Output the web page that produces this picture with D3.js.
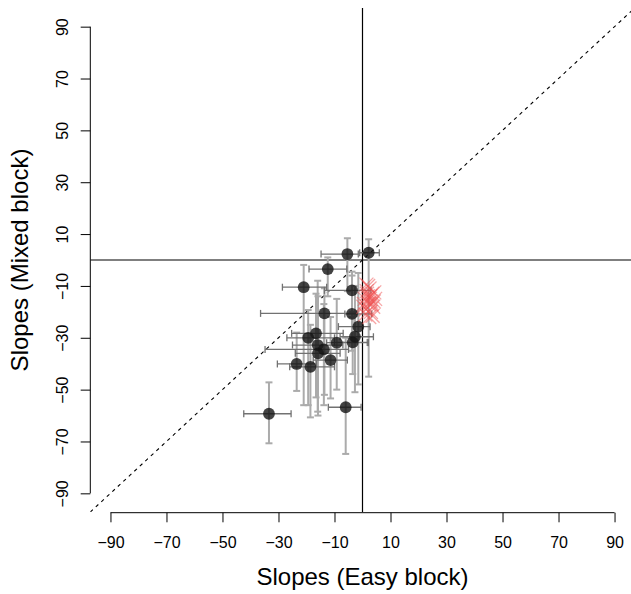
<!DOCTYPE html>
<html><head><meta charset="utf-8">
<script src="https://cdn.jsdelivr.net/npm/d3@7"></script>
<style>body{margin:0;background:#fff}svg{display:block}text{font-family:"Liberation Sans",Arial,Helvetica,sans-serif}</style>
</head><body>
<script>
// Participants: slopes in Easy block (x) and Mixed block (y), with error bars
const ptX   = [-5.4, 2.2, -12.4, -21.0, -3.75, -13.6, -3.75, -1.5, -2.7, -3.5, -16.6, -19.4, -16.0, -13.8, -15.9, -9.2, -11.4, -23.5, -18.6, -6.0, -33.4];
const ptY   = [2.3, 2.8, -3.5, -10.5, -11.7, -20.6, -20.8, -25.7, -29.6, -31.8, -28.3, -30.0, -32.8, -34.5, -36.0, -31.9, -38.6, -40.1, -41.2, -56.8, -59.3];
const xLo   = [-14.8, -1.0, -19.1, -28.6, -13.6, -36.4, -6.3, -8.6, -8.0, -10.0, -25.3, -27.0, -25.0, -34.8, -24.0, -12.8, -17.6, -30.4, -26.0, -12.2, -42.4];
const xHi   = [-1.5, 6.0, -5.6, -12.8, 3.0, -2.0, 3.3, 2.7, 3.9, 1.7, -6.9, -10.0, -7.0, -5.0, -8.0, 2.1, -5.4, -16.4, -10.0, -0.5, -25.5];
const yLo   = [-12.0, -45.0, -14.0, -56.0, -22.0, -52.0, -35.0, -48.0, -51.0, -44.0, -53.0, -56.0, -58.5, -56.0, -60.0, -50.0, -53.4, -50.5, -60.7, -74.8, -70.7];
const yHi   = [8.4, 8.0, 1.0, -1.9, -4.5, -10.9, -6.0, -5.0, -10.0, -20.0, -13.0, -19.3, -8.0, -17.0, -14.0, -15.0, -22.0, -28.0, -25.0, -30.0, -47.2];
// Red crosses (cluster near zero)
const redX  = [1.5, 2.8, 0.8, 3.5, 2.2, 1.2, 4.0, 2.5, 3.0, 0.5, 1.9, 3.8, 2.6, 1.0, 4.5, 2.0, 3.2, 1.6, 2.9, 0.3, 3.6, 1.4, 2.4, 4.2];
const redY  = [-12, -14, -15, -13, -17, -19, -16, -11, -20, -17, -14, -18, -15, -21, -15, -10, -17, -13, -16, -18, -21.5, -9.5, -22, -12.5];
const ticks = [-90, -70, -50, -30, -10, 10, 30, 50, 70, 90];
const xTitle = "Slopes (Easy block)";
const yTitle = "Slopes (Mixed block)";

const W = 631, H = 594;
const svg = d3.select("body").append("svg").attr("width", W).attr("height", H);
const x = d3.scaleLinear().domain([-97.2, 97.2]).range([90.3, 634.7]);
const y = d3.scaleLinear().domain([-97.2, 97.2]).range([512, 8]);

svg.append("defs").append("clipPath").attr("id","clip")
  .append("rect").attr("x",90.3).attr("y",8).attr("width",544.4).attr("height",504);

const plot = svg.append("g").attr("clip-path","url(#clip)");

// reference lines
plot.append("line").attr("x1",x(-97.2)).attr("x2",x(97.2)).attr("y1",y(-97.2)).attr("y2",y(97.2))
  .attr("stroke","#000").attr("stroke-width",1.1).attr("stroke-dasharray","3.5,4");
plot.append("line").attr("x1",x(-97.2)).attr("x2",x(97.2)).attr("y1",y(0)).attr("y2",y(0))
  .attr("stroke","#000").attr("stroke-width",1.2);
plot.append("line").attr("x1",x(0)).attr("x2",x(0)).attr("y1",y(-97.2)).attr("y2",y(97.2))
  .attr("stroke","#000").attr("stroke-width",1.2);

const idx = d3.range(ptX.length);
const vcol = "#ababab", hcol = "#727272";
// vertical error bars
const vb = plot.append("g").attr("stroke",vcol).attr("stroke-width",2);
idx.forEach(i=>{
  vb.append("line").attr("x1",x(ptX[i])).attr("x2",x(ptX[i])).attr("y1",y(yLo[i])).attr("y2",y(yHi[i]));
  [yLo[i],yHi[i]].forEach(v=>vb.append("line").attr("x1",x(ptX[i])-3.5).attr("x2",x(ptX[i])+3.5).attr("y1",y(v)).attr("y2",y(v)));
});
// horizontal error bars
const hb = plot.append("g").attr("stroke",hcol).attr("stroke-width",1.3);
idx.forEach(i=>{
  hb.append("line").attr("x1",x(xLo[i])).attr("x2",x(xHi[i])).attr("y1",y(ptY[i])).attr("y2",y(ptY[i]));
  [xLo[i],xHi[i]].forEach(v=>hb.append("line").attr("x1",x(v)).attr("x2",x(v)).attr("y1",y(ptY[i])-3.5).attr("y2",y(ptY[i])+3.5));
});
// points
plot.append("g").selectAll("circle").data(idx).join("circle")
  .attr("cx",i=>x(ptX[i])).attr("cy",i=>y(ptY[i])).attr("r",5.9)
  .attr("fill","rgba(20,20,20,0.8)");
// red crosses
const rg = plot.append("g").attr("stroke","rgba(240,80,80,0.5)").attr("stroke-width",1.3);
d3.range(redX.length).forEach(i=>{
  const cx = x(redX[i]), cy = y(redY[i]), s = 7;
  rg.append("line").attr("x1",cx-s).attr("x2",cx+s).attr("y1",cy-s).attr("y2",cy+s);
  rg.append("line").attr("x1",cx-s).attr("x2",cx+s).attr("y1",cy+s).attr("y2",cy-s);
});

// axes
const xa = svg.append("g").attr("transform",`translate(0,${512.7})`)
  .call(d3.axisBottom(x).tickValues(ticks).tickSize(9.6));
xa.select(".domain").remove();
xa.append("line").attr("x1",x(-90)).attr("x2",x(90)).attr("stroke","#000");
xa.selectAll(".tick line").attr("stroke","#000");
xa.selectAll(".tick text").attr("y",35.3).attr("dy",0).attr("fill","#000")
  .style("font-size","16px").style("font-family",'"Liberation Sans",Arial,sans-serif');

const ya = svg.append("g").attr("transform",`translate(${90.3},0)`)
  .call(d3.axisLeft(y).tickValues(ticks).tickSize(9.6));
ya.select(".domain").remove();
ya.append("line").attr("y1",y(-90)).attr("y2",y(90)).attr("stroke","#000");
ya.selectAll(".tick line").attr("stroke","#000");
ya.selectAll(".tick text").attr("transform","rotate(-90)").attr("x",0).attr("y",-22.3).attr("dy",0)
  .attr("text-anchor","middle").attr("fill","#000")
  .style("font-size","16px").style("font-family",'"Liberation Sans",Arial,sans-serif');

svg.append("text").attr("x",362.5).attr("y",585).attr("text-anchor","middle")
  .style("font-size","24px").text(xTitle);
svg.append("text").attr("transform",`translate(28,260) rotate(-90)`).attr("text-anchor","middle")
  .style("font-size","24px").text(yTitle);
</script>
</body></html>
